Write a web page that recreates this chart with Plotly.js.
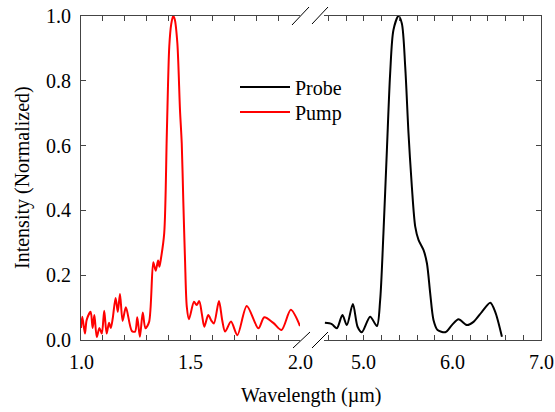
<!DOCTYPE html>
<html>
<head>
<meta charset="utf-8">
<script src="https://cdn.plot.ly/plotly-3.0.1.min.js"></script>
<style>html,body{margin:0;padding:0;background:#fff;}#chart{width:555px;height:412px;}</style>
</head>
<body>
<div id="chart"></div>
<script>
// Pump spectrum (left segment, 1.0 - 2.0 µm)
const pumpWavelength = [1.000,1.006,1.018,1.026,1.044,1.053,1.061,1.072,1.084,1.095,1.106,1.117,1.128,1.136,1.145,1.158,1.168,1.178,1.190,1.205,1.232,1.247,1.257,1.269,1.282,1.294,1.311,1.330,1.341,1.352,1.358,1.364,1.380,1.392,1.403,1.412,1.421,1.428,1.440,1.452,1.460,1.467,1.475,1.483,1.493,1.516,1.528,1.540,1.552,1.563,1.581,1.595,1.607,1.630,1.645,1.658,1.685,1.714,1.757,1.810,1.837,1.878,1.916,1.958,2.000];
const pumpIntensity  = [0.037,0.072,0.020,0.062,0.087,0.037,0.077,0.009,0.037,0.020,0.090,0.020,0.053,0.037,0.067,0.130,0.087,0.142,0.059,0.101,0.028,0.026,0.070,0.010,0.085,0.036,0.056,0.240,0.214,0.245,0.226,0.247,0.330,0.640,0.905,0.975,1.000,0.990,0.916,0.710,0.607,0.432,0.247,0.103,0.064,0.118,0.108,0.120,0.080,0.041,0.077,0.060,0.051,0.120,0.060,0.026,0.057,0.015,0.105,0.036,0.070,0.053,0.031,0.093,0.043];

// Probe spectrum (right segment, ~4.55 - 7.0 µm)
const probeWavelength = [4.560,4.638,4.695,4.758,4.808,4.876,4.930,4.977,5.071,5.147,5.184,5.221,5.260,5.297,5.334,5.391,5.429,5.467,5.504,5.542,5.580,5.617,5.673,5.712,5.749,5.786,5.832,5.919,5.994,6.069,6.164,6.238,6.333,6.427,6.483,6.559];
const probeIntensity  = [0.053,0.049,0.036,0.077,0.046,0.111,0.040,0.024,0.072,0.043,0.123,0.329,0.586,0.823,0.957,1.000,0.977,0.843,0.638,0.473,0.350,0.309,0.278,0.237,0.144,0.062,0.031,0.024,0.046,0.064,0.046,0.056,0.087,0.115,0.087,0.010];

const pumpTicks = [1.0, 1.5, 2.0];
const probeTicks = [5.0, 6.0, 7.0];
const yTicks = [0.0, 0.2, 0.4, 0.6, 0.8, 1.0];

const FONT = 'Liberation Serif, Times New Roman, serif';
const FS = 20;
const AX = '#444';

const traces = [
  {x: probeWavelength, y: probeIntensity, xaxis: 'x2', yaxis: 'y2', name: 'Probe', legend: 'legend',
   mode: 'lines', line: {color: '#000000', width: 2, shape: 'spline', smoothing: 0.8}},
  {x: pumpWavelength, y: pumpIntensity, xaxis: 'x', yaxis: 'y', name: 'Pump', legend: 'legend2',
   mode: 'lines', line: {color: '#ff0000', width: 2, shape: 'spline', smoothing: 0.8}}
];

function xAxis(domain, range, ticks, minorDtick) {
  return {
    domain: domain, range: range, anchor: domain[0] === 0 ? 'y' : 'y2',
    tickvals: ticks, showticklabels: false,
    ticks: 'inside', ticklen: 5, tickcolor: AX, showline: true, linecolor: AX, linewidth: 1,
    mirror: 'ticks', showgrid: false, zeroline: false,
    minor: {dtick: minorDtick, tick0: ticks[0], ticks: 'inside', ticklen: 5, tickcolor: AX, showgrid: false}
  };
}

const L = 81, R = 541, T = 16, B = 340, W = 555, H = 412;
const px = x => (x - L) / (R - L);
const py = y => (B - y) / (B - T);
function slash(x0, y0, x1, y1) {
  return {type: 'line', xref: 'paper', yref: 'paper', x0: px(x0), y0: py(y0), x1: px(x1), y1: py(y1),
          line: {color: '#000', width: 1}};
}
function legendAt(yCenter) {
  return {x: px(235), y: py(yCenter), xanchor: 'left', yanchor: 'middle', bgcolor: 'rgba(0,0,0,0)',
          itemwidth: 50, font: {family: FONT, size: FS, color: '#000'}};
}
function tickLabel(xref, v) {
  return {text: v.toFixed(1), xref: xref, yref: 'paper', x: v, y: py(362), xanchor: 'center', yanchor: 'middle',
          showarrow: false, font: {family: FONT, size: FS, color: '#000'}};
}

const layout = {
  width: W, height: H,
  margin: {l: L, r: W - R, t: T, b: H - B},
  paper_bgcolor: '#fff', plot_bgcolor: '#fff',
  font: {family: FONT, size: FS, color: '#000'},
  showlegend: true,
  legend: legendAt(87),
  legend2: legendAt(112),
  xaxis: xAxis([0, px(300)], [1.0, 2.0], pumpTicks, 0.1),
  xaxis2: xAxis([px(324), 1], [4.55, 7.0], probeTicks, 0.2),
  yaxis: {
    domain: [0, 1], range: [0, 1], anchor: 'x', tickvals: yTicks, ticktext: yTicks.map(v => v.toFixed(1)),
    ticks: 'inside', ticklen: 5, tickcolor: AX, showline: true, linecolor: AX, linewidth: 1,
    showgrid: false, zeroline: false, ticklabelstandoff: 5, tickfont: {family: FONT, size: FS, color: '#000'}
  },
  yaxis2: {
    domain: [0, 1], range: [0, 1], anchor: 'x2', side: 'right', tickvals: yTicks, showticklabels: false,
    ticks: 'inside', ticklen: 5, tickcolor: AX, showline: true, linecolor: AX, linewidth: 1,
    showgrid: false, zeroline: false
  },
  annotations: [
    ...pumpTicks.map(v => tickLabel('x', v)),
    ...probeTicks.map(v => tickLabel('x2', v)),
    {text: 'Wavelength (\u00b5m)', xref: 'paper', yref: 'paper', x: 0.5, y: py(396), xanchor: 'center', yanchor: 'middle',
     showarrow: false, font: {family: FONT, size: FS, color: '#000'}},
    {text: 'Intensity (Normalized)', xref: 'paper', yref: 'paper', x: px(22), y: 0.5, xanchor: 'center', yanchor: 'middle',
     textangle: -90, showarrow: false, font: {family: FONT, size: FS, color: '#000'}}
  ],
  shapes: [
    slash(292, 25, 309, 7), slash(312, 24, 328, 7),
    slash(293, 348, 310, 332), slash(312, 348, 328, 332)
  ]
};

Plotly.newPlot('chart', traces, layout, {displayModeBar: false, staticPlot: true});
</script>
</body>
</html>
